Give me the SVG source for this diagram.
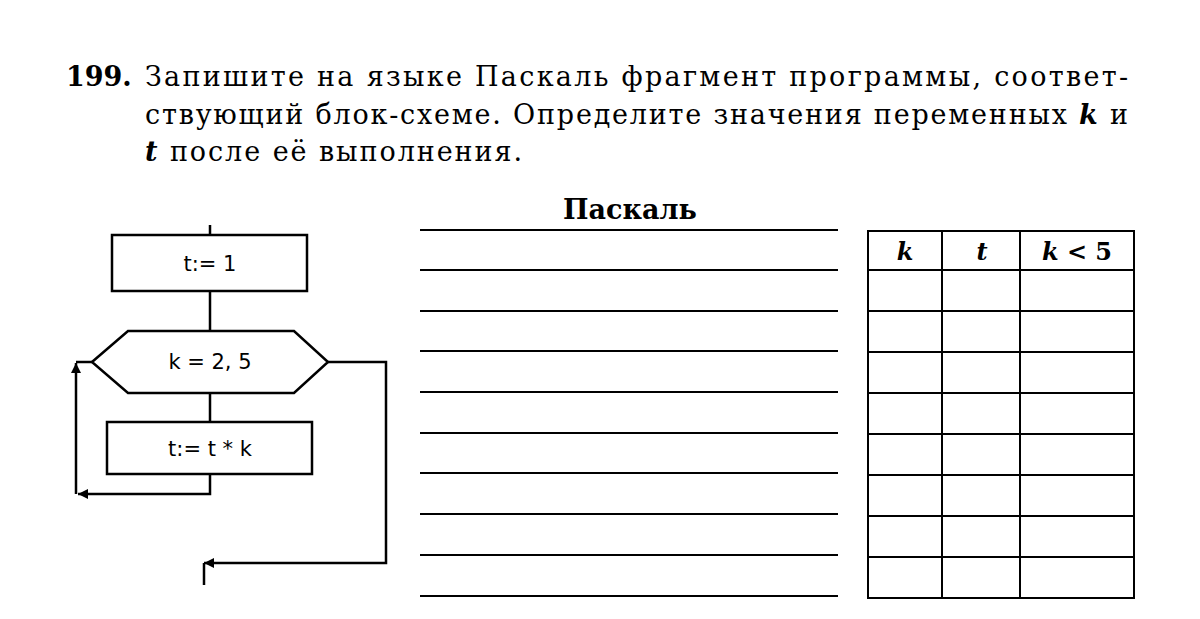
<svg xmlns="http://www.w3.org/2000/svg" width="1200" height="619" viewBox="0 0 1200 619">
<defs><marker id="a" viewBox="0 0 10 10" refX="10" refY="5" markerWidth="12" markerHeight="10" markerUnits="userSpaceOnUse" orient="auto"><path d="M0,0L10,5L0,10z" fill="#000"/></marker></defs>
<style>
.t{font-family:"DejaVu Serif",serif;font-size:27px}
.b{font-weight:bold}
.n{fill:#fff;stroke:#000;stroke-width:2.5}
.l{fill:none;stroke:#000;stroke-width:2.5}
.f{font-family:"DejaVu Sans",sans-serif;font-size:21px;text-anchor:middle}
.h{font-family:"DejaVu Serif",serif;font-size:24px;font-weight:bold;font-style:italic;text-anchor:middle}
</style>
<rect width="1200" height="619" fill="#fff"/>
<text class="t b" x="66" y="86">199.</text>
<text class="t" x="145" y="86" textLength="983" lengthAdjust="spacing">Запишите на языке Паскаль фрагмент программы, соответ-</text>
<text class="t" x="145" y="124" textLength="983" lengthAdjust="spacing">ствующий блок-схеме. Определите значения переменных <tspan class="b" font-style="italic">k</tspan> и</text>
<text class="t" x="145" y="161" textLength="377" lengthAdjust="spacing"><tspan class="b" font-style="italic">t</tspan> после её выполнения.</text>
<g id="connectors">
<path class="l" d="M210,225V235M210,291V331M210,393V422"/>
<path class="l" d="M210,474V494H78" marker-end="url(#a)"/>
<path class="l" d="M76,494V363" marker-end="url(#a)"/>
<path class="l" d="M76,362H92"/>
<path class="l" d="M328,362H386V563H204" marker-end="url(#a)"/>
<path class="l" d="M204,563V585"/>
</g>
<g id="n1"><rect class="n" x="112" y="235" width="195" height="56"/><text class="f" x="210" y="271">t:= 1</text></g>
<g id="n2"><polygon class="n" points="92,362 128,331 294,331 328,362 294,393 128,393"/><text class="f" x="210" y="369">k = 2, 5</text></g>
<g id="n3"><rect class="n" x="107" y="422" width="205" height="52"/><text class="f" x="210" y="456">t:= t * k</text></g>
<text class="t b" x="630" y="219" text-anchor="middle" font-size="22">Паскаль</text>
<g stroke="#000" stroke-width="2">
<path d="M420,230H838M420,270H838M420,311H838M420,351H838M420,392H838M420,433H838M420,473H838M420,514H838M420,555H838M420,596H838"/>
<rect x="868" y="231" width="266" height="367" fill="none"/>
<path d="M942,231V598M1020,231V598M868,270H1134M868,311H1134M868,352H1134M868,393H1134M868,434H1134M868,475H1134M868,516H1134M868,557H1134"/>
</g>
<text class="h" x="905" y="260">k</text>
<text class="h" x="982" y="260">t</text>
<text class="h" x="1077" y="260">k <tspan font-style="normal">&lt; 5</tspan></text>
</svg>
